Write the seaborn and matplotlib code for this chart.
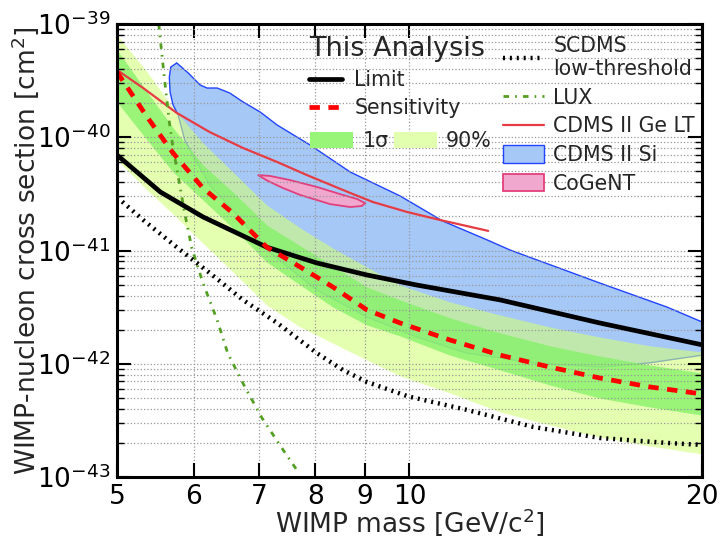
import numpy as np
import matplotlib
matplotlib.use("Agg")
import matplotlib.pyplot as plt
import seaborn as sns
from matplotlib.lines import Line2D
from matplotlib.patches import Patch
from matplotlib.ticker import FixedLocator, FixedFormatter, NullLocator, LogLocator, NullFormatter

# ---------------- data ----------------
x_ticks = [5, 6, 7, 8, 9, 10, 20]
x_ticklabels = ["5", "6", "7", "8", "9", "10", "20"]

limit_mass = [5.00, 5.54, 6.13, 7.13, 8.03, 9.04, 10.18, 12.40, 15.70, 20.0]
limit_xsec = [6.97e-41, 3.29e-41, 1.98e-41, 1.07e-41, 7.76e-42, 6.08e-42, 4.95e-42, 3.66e-42, 2.29e-42, 1.47e-42]

band_mass = [5.00, 5.37, 5.71, 6.13, 6.58, 7.13, 7.72, 8.34, 9.04, 9.78, 11.01, 12.40, 13.95, 15.70, 17.68, 20.0]
sens_xsec = [3.77e-40, 1.51e-40, 7.26e-41, 3.56e-41, 2.14e-41, 1.07e-41, 7.14e-42, 4.76e-42, 2.99e-42, 2.29e-42,
             1.62e-42, 1.19e-42, 9.35e-43, 7.48e-43, 6.24e-43, 5.41e-43]
sig1_hi = [5.89e-40, 2.51e-40, 1.21e-40, 5.69e-41, 3.29e-41, 1.68e-41, 1.10e-41, 7.29e-42, 4.76e-42, 3.66e-42,
           2.54e-42, 1.87e-42, 1.44e-42, 1.17e-42, 9.75e-43, 8.28e-43]
sig1_lo = [2.05e-40, 9.46e-41, 4.93e-41, 2.79e-41, 1.58e-41, 7.91e-42, 4.95e-42, 3.17e-42, 2.20e-42, 1.76e-42,
           1.19e-42, 8.81e-43, 6.49e-43, 4.98e-43, 4.15e-43, 3.52e-43]
p90_hi = [8.00e-40, 3.77e-40, 1.81e-40, 8.89e-41, 4.93e-41, 2.52e-41, 1.58e-41, 1.05e-41, 7.14e-42, 4.95e-42,
          3.51e-42, 2.69e-42, 2.11e-42, 1.72e-42, 1.44e-42, 1.27e-42]
p90_lo = [6.30e-41, 3.42e-41, 2.10e-41, 1.16e-41, 6.46e-42, 3.30e-42, 2.11e-42, 1.52e-42, 1.08e-42, 7.80e-43,
          5.52e-43, 3.75e-43, 2.88e-43, 2.25e-43, 1.88e-43, 1.60e-43]

scdms_mass = [5.00, 5.32, 5.76, 6.23, 6.74, 7.31, 8.03, 8.54, 9.04, 9.96, 11.46, 13.40, 15.70, 18.40, 20.0]
scdms_xsec = [2.96e-41, 1.86e-41, 1.07e-41, 6.32e-42, 3.66e-42, 2.29e-42, 1.24e-42, 8.81e-43, 6.90e-43, 5.16e-43,
              3.91e-43, 2.77e-43, 2.21e-43, 2.00e-43, 1.92e-43]

lux_mass = [5.52, 5.58, 5.66, 5.71, 5.76, 5.87, 5.97, 6.13, 6.34, 6.50, 6.77, 7.05, 7.39, 7.68]
lux_xsec = [1.00e-39, 4.08e-40, 1.36e-40, 8.04e-41, 5.35e-41, 2.14e-41, 1.05e-41, 5.16e-42, 2.43e-42, 1.24e-42,
            6.24e-43, 3.32e-43, 1.80e-43, 1.11e-43]

ge_mass = [5.00, 5.32, 5.76, 6.23, 6.74, 7.31, 7.84, 8.69, 9.17, 9.94, 10.75, 12.05]
ge_xsec = [3.93e-40, 2.72e-40, 1.64e-40, 1.11e-40, 8.04e-41, 6.04e-41, 4.64e-41, 3.22e-41, 2.68e-41, 2.19e-41,
           1.86e-41, 1.49e-41]

si_mass = [20.0, 18.40, 15.70, 12.69, 12.02, 10.82, 9.78, 8.69, 7.90, 7.31, 7.02, 6.74, 6.53, 6.34, 6.19, 6.09,
           5.92, 5.76, 5.68, 5.66, 5.67, 5.71, 5.78, 5.87, 6.02, 6.23, 6.58, 7.13, 8.03, 9.04, 10.18, 11.46,
           13.40, 15.70, 17.68, 20.0]
si_xsec = [2.34e-42, 3.17e-42, 5.16e-42, 1.01e-41, 1.24e-41, 1.82e-41, 3.03e-41, 4.93e-41, 8.55e-41, 1.28e-40,
           1.67e-40, 2.05e-40, 2.46e-40, 2.72e-40, 2.72e-40, 2.89e-40, 3.69e-40, 4.53e-40, 4.17e-40, 3.40e-40,
           2.51e-40, 1.93e-40, 1.57e-40, 9.46e-41, 6.30e-41, 3.79e-41, 2.28e-41, 1.01e-41, 4.48e-42, 2.59e-42,
           1.72e-42, 1.24e-42, 1.02e-42, 9.35e-43, 1.02e-42, 1.19e-42]

cog_mass = [6.98, 7.19, 7.53, 8.03, 8.48, 8.83, 9.00, 8.93, 8.69, 8.28, 8.03, 7.72, 7.41, 7.15]
cog_xsec = [4.64e-41, 4.55e-41, 4.19e-41, 3.64e-41, 3.15e-41, 2.85e-41, 2.62e-41, 2.47e-41, 2.42e-41, 2.57e-41,
            2.79e-41, 3.09e-41, 3.56e-41, 4.11e-41]

# ---------------- style ----------------
sns.set_theme(style="ticks")
plt.rcParams["font.family"] = ["DejaVu Sans"]
plt.rcParams["mathtext.fontset"] = "dejavusans"
plt.rcParams["axes.linewidth"] = 2.2

C_SI_FACE = "#a6c8f7"
C_SI_EDGE = "#2244ff"
C_90 = "#d2ff7b"
C_1S = "#86f26b"
C_90_LEG = "#e2ffb0"
C_1S_LEG = "#98f578"
C_COG_FACE = "#f0a8cf"
C_COG_EDGE = "#e2407c"
C_GE = "#e63c44"
C_LUX = "#55a024"
LS_SENS = (0, (2.2, 1.8))
LS_SCDMS = (0, (0.45, 1.1))
LS_LUX = (0, (2.0, 2.2, 0.6, 2.2))

fig = plt.figure(figsize=(7.24, 5.36), dpi=100)
ax = fig.add_axes([117 / 724, 1 - 477 / 536, 585 / 724, 453 / 536])
ax.set_xscale("log")
ax.set_yscale("log")

# regions
ax.fill(si_mass, si_xsec, facecolor=C_SI_FACE, edgecolor=C_SI_EDGE, lw=1.0, zorder=1.0)
ax.fill_between(band_mass, p90_lo, p90_hi, color=C_90, alpha=0.6, lw=0, zorder=1.2)
ax.fill_between(band_mass, sig1_lo, sig1_hi, color=C_1S, alpha=0.8, lw=0, zorder=1.3)
ax.fill(cog_mass, cog_xsec, facecolor=C_COG_FACE, edgecolor=C_COG_EDGE, lw=1.3, zorder=1.5)

# curves
sns.lineplot(x=ge_mass, y=ge_xsec, ax=ax, color=C_GE, lw=1.6, sort=False, estimator=None, zorder=3)
sns.lineplot(x=lux_mass, y=lux_xsec, ax=ax, color=C_LUX, lw=2.0, sort=False, estimator=None,
             dashes=False, linestyle=LS_LUX, zorder=3)
sns.lineplot(x=scdms_mass, y=scdms_xsec, ax=ax, color="black", lw=3.2, sort=False, estimator=None,
             dashes=False, linestyle=LS_SCDMS, zorder=3)
sns.lineplot(x=limit_mass, y=limit_xsec, ax=ax, color="black", lw=3.4, sort=False, estimator=None, zorder=4)
sns.lineplot(x=band_mass, y=sens_xsec, ax=ax, color="#ff0000", lw=3.4, sort=False, estimator=None,
             dashes=False, linestyle=LS_SENS, zorder=4)

# axes
ax.set_xlim(5, 20)
ax.set_ylim(1e-43, 1e-39)
ax.xaxis.set_major_locator(FixedLocator(x_ticks))
ax.xaxis.set_major_formatter(FixedFormatter(x_ticklabels))
ax.xaxis.set_minor_locator(NullLocator())
ax.yaxis.set_major_locator(LogLocator(base=10, numticks=10))
ax.yaxis.set_minor_locator(LogLocator(base=10, subs=np.arange(2, 10), numticks=10))
ax.yaxis.set_minor_formatter(NullFormatter())
ax.tick_params(which="both", direction="in", top=True, right=True, labelsize=19, colors="black")
ax.tick_params(which="major", length=10, width=1.5, pad=5)
ax.tick_params(which="minor", length=5, width=1.0)
ax.grid(True, which="both", linestyle=":", color="#999999", lw=0.9)
ax.set_axisbelow(False)
for s in ax.spines.values():
    s.set_linewidth(2.2)
    s.set_color("black")
    s.set_zorder(6)

ax.set_xlabel("WIMP mass [GeV/c$^{2}$]", fontsize=19)
ax.set_ylabel("WIMP-nucleon cross section [cm$^{2}$]", fontsize=19)
ax.xaxis.set_label_coords(0.5, -0.064)
ax.yaxis.set_label_coords(-0.13, 0.5)

# legends
h1 = [Line2D([], [], color="black", lw=3.4),
      Line2D([], [], color="#ff0000", lw=3.4, linestyle=LS_SENS)]
leg1 = ax.legend(h1, ["Limit", "Sensitivity"], title="This Analysis", title_fontsize=19.5, fontsize=14.8,
                 frameon=False, loc="upper left", bbox_to_anchor=(309 / 724, 1 - 36 / 536),
                 bbox_transform=fig.transFigure, borderpad=0, borderaxespad=0, handlelength=1.6,
                 handletextpad=0.6, labelspacing=0.4, alignment="left")
ax.add_artist(leg1)

h2 = [Patch(facecolor=C_1S_LEG, edgecolor="none"), Patch(facecolor=C_90_LEG, edgecolor="none")]
leg2 = ax.legend(h2, ["1σ", "90%"], fontsize=14.8, ncol=2, frameon=False, loc="upper left",
                 bbox_to_anchor=(310 / 724, 1 - 131 / 536), bbox_transform=fig.transFigure, borderpad=0,
                 borderaxespad=0, handlelength=2.1, handleheight=0.8, handletextpad=0.45, columnspacing=0.25)
ax.add_artist(leg2)

h3 = [Line2D([], [], color="black", lw=3.2, linestyle=LS_SCDMS),
      Line2D([], [], color=C_LUX, lw=2.0, linestyle=LS_LUX),
      Line2D([], [], color=C_GE, lw=1.6),
      Patch(facecolor=C_SI_FACE, edgecolor=C_SI_EDGE, lw=1.0),
      Patch(facecolor=C_COG_FACE, edgecolor=C_COG_EDGE, lw=1.3)]
leg3 = ax.legend(h3, ["SCDMS\nlow-threshold", "LUX", "CDMS II Ge LT", "CDMS II Si", "CoGeNT"], fontsize=14.8,
                 frameon=False, loc="upper left", bbox_to_anchor=(503 / 724, 1 - 36 / 536),
                 bbox_transform=fig.transFigure, borderpad=0, borderaxespad=0, handlelength=2.0,
                 handleheight=0.9, handletextpad=0.45, labelspacing=0.42)
for l in (leg1, leg2, leg3):
    l.set_zorder(10)

fig.savefig("out.png", dpi=100)
